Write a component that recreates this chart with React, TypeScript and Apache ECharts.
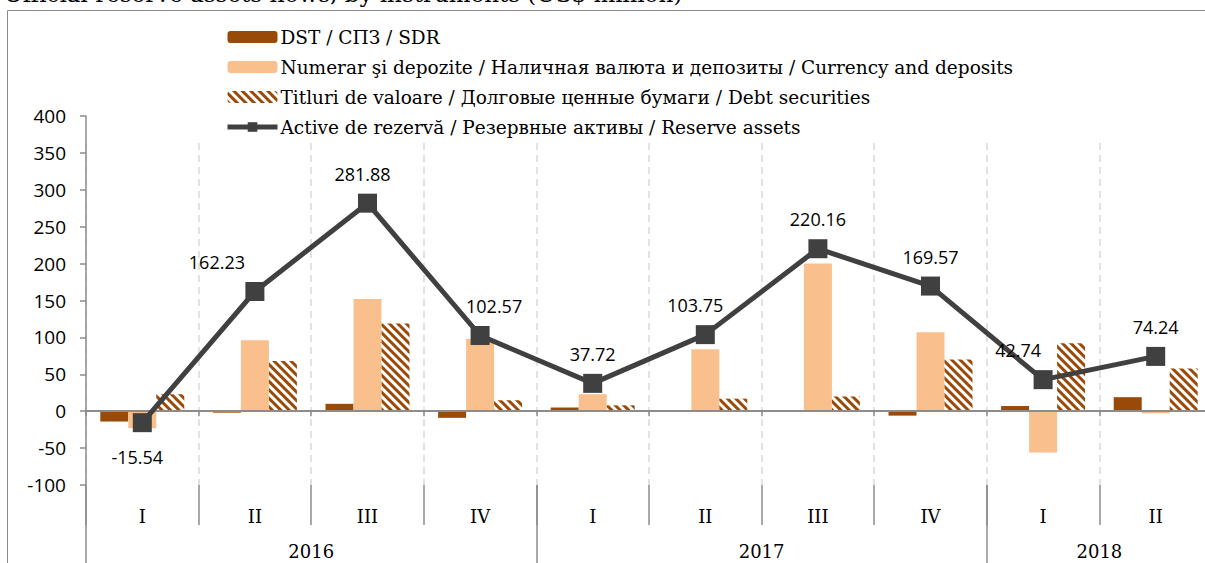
import React, { useEffect, useRef } from "react";
import * as echarts from "echarts";

const quarters = ["I", "II", "III", "IV", "I", "II", "III", "IV", "I", "II"];
const years = ["2016", "2017", "2018"];
const yearCenters = [2, 6, 9];
const yearBounds = [0, 4, 8, 10];
const dst = [-14, -2, 10, -9, 5, 1, -1, -6, 7, 19];
const numerar = [-23, 96, 152, 98, 23, 84, 200, 107, -56, -3];
const titluri = [23, 68, 119, 15, 8, 17, 20, 70, 92, 58];
const reserve = [-15.54, 162.23, 281.88, 102.57, 37.72, 103.75, 220.16, 169.57, 42.74, 74.24];
const seriesNames = [
  "DST / СПЗ / SDR",
  "Numerar şi depozite / Наличная валюта и депозиты / Currency and deposits",
  "Titluri de valoare / Долговые ценные бумаги / Debt securities",
  "Active de rezervă / Резервные активы / Reserve assets",
];
const titleText = "Official reserve assets flows, by instruments (US$ million)";

// layout-only: label offsets for the reserve line labels
const labelOffsets: [number, number][] = [
  [-5, 0], [-38, 0], [-5, 0], [14, 0], [0, 0], [-10, 0], [0, 0], [0, 0], [-25, 0], [0, 0],
];

const SANS = "'Open Sans', 'Noto Sans', sans-serif";
const SERIF = "'DejaVu Serif', serif";
const AXIS = "#8c8c8c";

export default function App() {
  const ref = useRef<HTMLDivElement>(null);
  useEffect(() => {
    const chart = echarts.init(ref.current!, undefined, { renderer: "svg" });
    const gridL = 86, gridT = 116, gridW = 1126, gridH = 369;
    chart.setOption({
      animation: false,
      textStyle: { fontFamily: SANS },
      graphic: [
        {
          type: "rect",
          shape: { x: 7.5, y: 10.5, width: 1260, height: 600 },
          style: { fill: "none", stroke: "#8a8a8a", lineWidth: 1 },
          silent: true,
        },
        {
          type: "text",
          x: 4,
          y: -18,
          style: { text: titleText, font: `23px ${SERIF}`, fill: "#000" },
        },
      ],
      legend: {
        orient: "vertical",
        left: 220,
        top: 22,
        itemWidth: 50,
        itemHeight: 12,
        itemGap: 10,
        data: [
          { name: seriesNames[0] },
          { name: seriesNames[1] },
          { name: seriesNames[2] },
          { name: seriesNames[3], lineStyle: { width: 5 }, itemStyle: { color: "#404040" } },
        ],
        textStyle: { fontFamily: SERIF, fontSize: 18.5, color: "#000", lineHeight: 20, padding: [0, 0, 0, -2] },
      },
      grid: [
        { left: gridL, top: gridT, width: gridW, height: gridH },
        { left: gridL, top: 143, width: gridW, height: gridT + gridH - 143 },
      ],
      xAxis: [
        {
          type: "category",
          gridIndex: 0,
          data: quarters,
          axisLine: { onZero: true, lineStyle: { color: AXIS, width: 2 } },
          axisTick: { show: true, interval: 0, length: 5, lineStyle: { color: AXIS, width: 1.5 } },
          axisLabel: { show: false },
          splitLine: { show: false },
          z: 5,
        },
        {
          type: "category",
          gridIndex: 0,
          data: quarters,
          position: "bottom",
          axisLine: { show: false, onZero: false },
          axisTick: { show: true, interval: 0, length: 40, lineStyle: { color: AXIS, width: 1.5 } },
          axisLabel: { show: true, interval: 0, margin: 22, fontFamily: SERIF, fontSize: 18, color: "#000" },
          splitLine: { show: false },
        },
        {
          type: "value",
          gridIndex: 0,
          min: 0,
          max: 10,
          position: "bottom",
          axisLine: { show: false, onZero: false },
          axisTick: { show: true, customValues: yearBounds, length: 80, lineStyle: { color: AXIS, width: 1.5 } },
          axisLabel: {
            show: true,
            customValues: yearCenters,
            margin: 57,
            fontFamily: SERIF,
            fontSize: 18,
            color: "#000",
            formatter: (v: number) => {
              const i = yearCenters.indexOf(v);
              return i >= 0 ? years[i] : "";
            },
          },
          splitLine: { show: false },
        },
        {
          type: "category",
          gridIndex: 1,
          data: quarters,
          axisLine: { show: false },
          axisTick: { show: false },
          axisLabel: { show: false },
          splitLine: { show: true, interval: 0, lineStyle: { color: "#d9d9d9", type: [7, 5], width: 1.5 } },
        },
      ],
      yAxis: [
        {
          type: "value",
          gridIndex: 0,
          min: -100,
          max: 400,
          interval: 50,
          axisLine: { show: true, lineStyle: { color: AXIS, width: 1.5 } },
          axisTick: { show: true, length: 6, lineStyle: { color: AXIS, width: 1.5 } },
          axisLabel: { margin: 20, fontFamily: SANS, fontSize: 19, color: "#000" },
          splitLine: { show: false },
        },
        {
          type: "value",
          gridIndex: 1,
          show: false,
          splitLine: { show: false },
        },
      ],
      series: [
        {
          name: seriesNames[0],
          type: "bar",
          xAxisIndex: 0,
          yAxisIndex: 0,
          data: dst,
          barWidth: 28,
          barGap: "0%",
          itemStyle: { color: "#9a4a08" },
        },
        {
          name: seriesNames[1],
          type: "bar",
          xAxisIndex: 0,
          yAxisIndex: 0,
          data: numerar,
          barWidth: 28,
          barGap: "0%",
          itemStyle: { color: "#f9c08e" },
        },
        {
          name: seriesNames[2],
          type: "bar",
          xAxisIndex: 0,
          yAxisIndex: 0,
          data: titluri,
          barWidth: 28,
          barGap: "0%",
          itemStyle: {
            color: "#ffffff",
            decal: {
              symbol: "rect",
              symbolSize: 1,
              color: "#9a4a08",
              dashArrayX: [1, 0],
              dashArrayY: [3, 3],
              rotation: Math.PI / 4,
            },
          },
        },
        {
          name: seriesNames[3],
          type: "line",
          xAxisIndex: 0,
          yAxisIndex: 0,
          data: reserve.map((v, i) => ({
            value: v,
            label: {
              position: v < 0 ? "bottom" : "top",
              distance: v < 0 ? 16 : 11,
              offset: labelOffsets[i],
            },
          })),
          symbol: "rect",
          symbolSize: 19,
          lineStyle: { color: "#404040", width: 5 },
          itemStyle: { color: "#404040" },
          label: {
            show: true,
            fontFamily: SANS,
            fontSize: 18,
            color: "#000",
            formatter: (p: any) => Number(p.value).toFixed(2),
          },
          z: 10,
        },
      ],
    });
    return () => chart.dispose();
  }, []);
  return (
    <div style={{ position: "fixed", left: 0, top: 0, width: 1205, height: 563, overflow: "hidden", background: "#fff" }}>
      <div ref={ref} style={{ position: "absolute", left: 0, top: 0, width: 1240, height: 563 }} />
    </div>
  );
}
